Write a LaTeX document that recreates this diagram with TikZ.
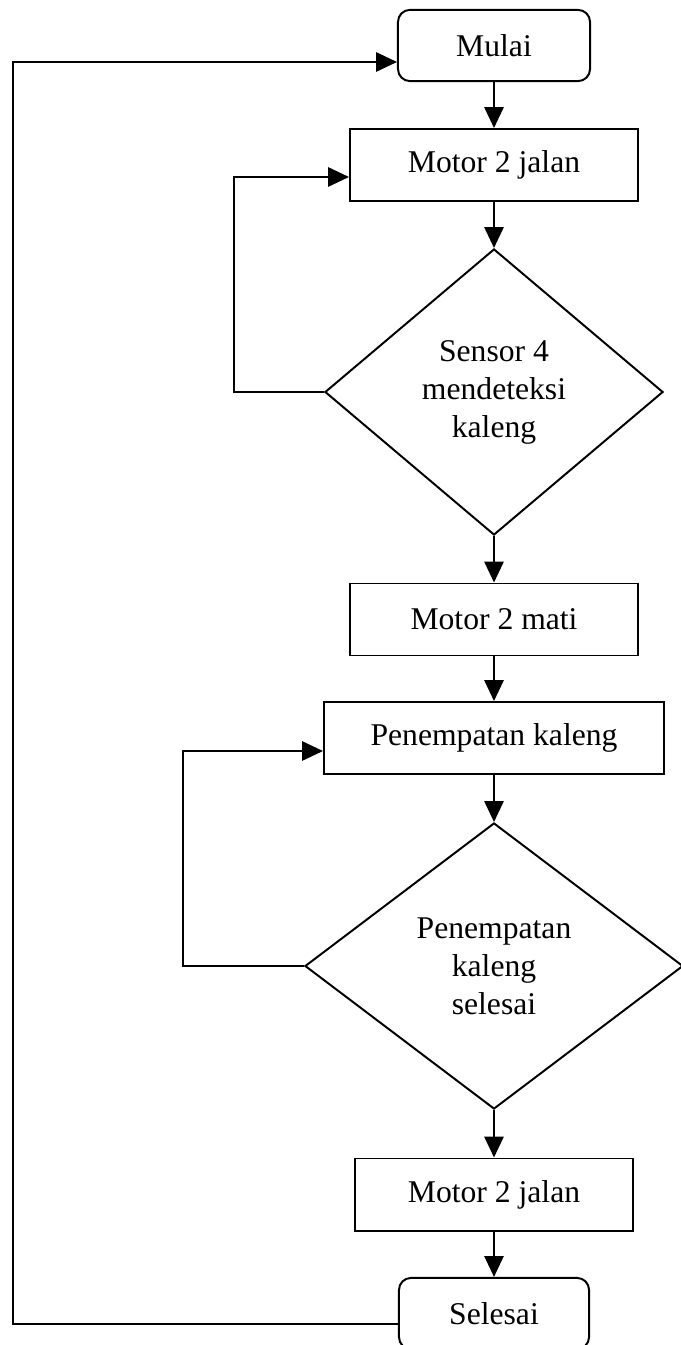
\documentclass[tikz,border=0pt]{standalone}
\usepackage{fontspec}
\setmainfont{Liberation Serif}
\usetikzlibrary{shapes.geometric,arrows.meta}

\begin{document}
\begin{tikzpicture}[x=0.025cm,y=-0.025cm,
        font=\fontsize{22.5}{27}\selectfont,
        line width=1.4pt,
        blok/.style={draw, rectangle, minimum height=1.8cm, inner sep=0pt},
        ujung/.style={draw, rectangle, rounded corners=0.3cm, minimum width=4.8cm, minimum height=1.78cm, inner sep=0pt},
        cek/.style={draw, diamond, inner sep=0pt, align=center, minimum height=7.15cm},
        panah/.style={-{Triangle[length=0.52cm,width=0.48cm]}}]
            \useasboundingbox (0,0) rectangle (681,1345);
            \node[ujung] (mulai) at (494,45.5) {Mulai};
            \node[blok, minimum width=7.2cm] (jalan1) at (494,165) {Motor 2 jalan};
            \node[cek, minimum width=8.45cm] (sensor) at (494,392) {Sensor 4\\mendeteksi\\kaleng};
            \node[blok, minimum width=7.2cm] (mati) at (494,619.5) {Motor 2 mati};
            \node[blok, minimum width=8.5cm] (tempat) at (494,738) {Penempatan kaleng};
            \node[cek, minimum width=9.45cm] (selesaicek) at (494,966) {Penempatan\\kaleng\\selesai};
            \node[blok, minimum width=6.95cm] (jalan2) at (494,1194.5) {Motor 2 jalan};
            \node[ujung, minimum width=4.75cm] (selesai) at (494,1313.5) {Selesai};
            % titik belok
            \coordinate (b1) at (234,177);
            \coordinate (b2) at (183,751);
            \coordinate (b3) at (13,1324);
            \coordinate (b4) at (13,62);
            \draw[panah] (mulai) -- (jalan1);
            \draw[panah] (jalan1) -- (sensor);
            \draw[panah] (sensor) -- (mati);
            \draw[panah] (mati) -- (tempat);
            \draw[panah] (tempat) -- (selesaicek);
            \draw[panah] (selesaicek) -- (jalan2);
            \draw[panah] (jalan2) -- (selesai);
            \draw[panah] (sensor.west) -| (b1) -- (b1 -| jalan1.west);
            \draw[panah] (selesaicek.west) -| (b2) -- (b2 -| tempat.west);
            \draw[panah] (b3 -| selesai.west) -- (b3) -- (b4) -- (b4 -| mulai.west);
        \end{tikzpicture}
\end{document}
